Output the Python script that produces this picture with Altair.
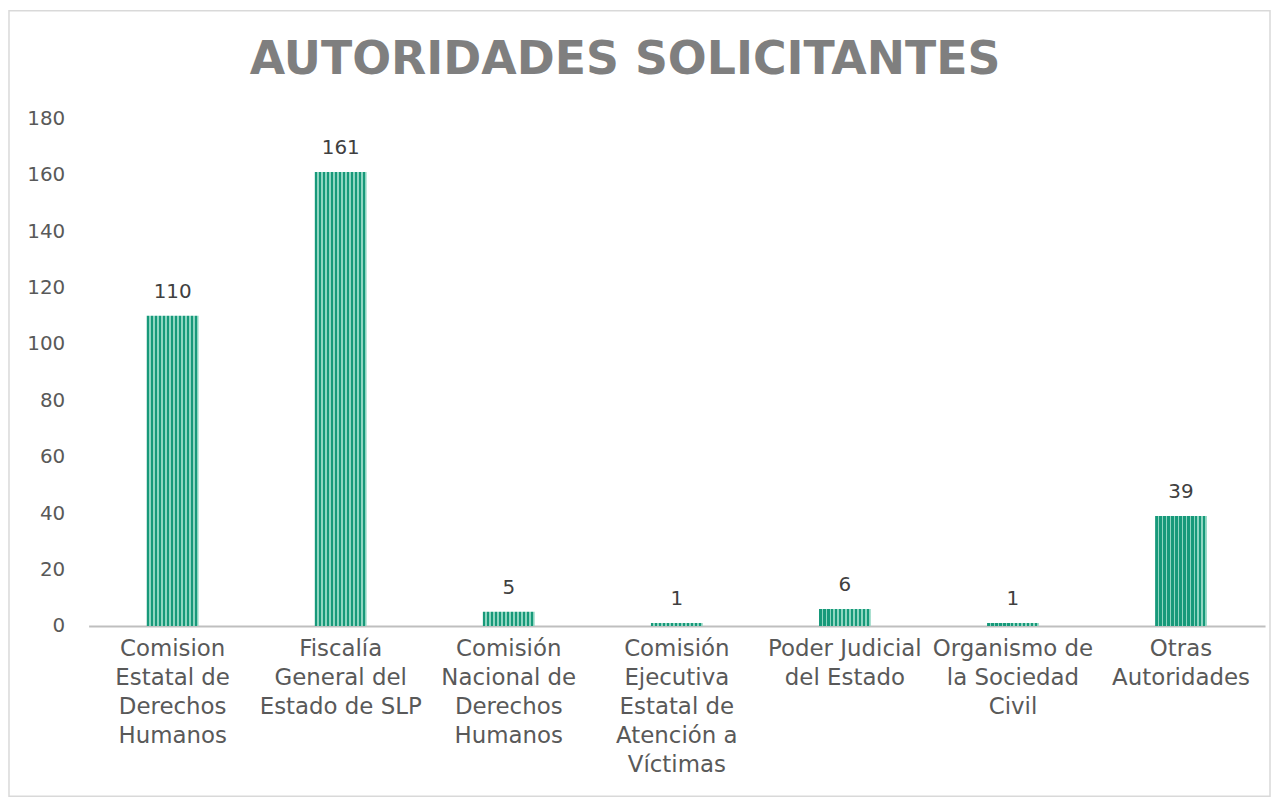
import altair as alt
import pandas as pd

categories = [
    "Comision\nEstatal de\nDerechos\nHumanos",
    "Fiscalía\nGeneral del\nEstado de SLP",
    "Comisión\nNacional de\nDerechos\nHumanos",
    "Comisión\nEjecutiva\nEstatal de\nAtención a\nVíctimas",
    "Poder Judicial\ndel Estado",
    "Organismo de\nla Sociedad\nCivil",
    "Otras\nAutoridades",
]
values = [110, 161, 5, 1, 6, 1, 39]
y_ticks = [0, 20, 40, 60, 80, 100, 120, 140, 160, 180]

df = pd.DataFrame({"cat": categories, "val": values})

dark = "#17997a"
light = "#8fd6c1"
periods = 13
stops = []
for i in range(periods):
    a = i / periods
    b = (i + 0.64) / periods
    c = (i + 1) / periods
    stops += [
        alt.GradientStop(offset=a, color=dark),
        alt.GradientStop(offset=b, color=dark),
        alt.GradientStop(offset=b, color=light),
        alt.GradientStop(offset=c, color=light),
    ]
stripes = alt.LinearGradient(gradient="linear", stops=stops, x1=0, x2=1, y1=0, y2=0)

FONT = "DejaVu Sans"

x_enc = alt.X(
    "cat:N",
    sort=categories,
    title=None,
    scale=alt.Scale(paddingInner=0.692, paddingOuter=0.346),
    axis=alt.Axis(
        labelAngle=0,
        labelExpr="split(datum.label, '\\n')",
        labelFont=FONT,
        labelFontSize=23,
        labelColor="#595959",
        labelLineHeight=29,
        labelPadding=12,
        labelLimit=400,
        labelBaseline="top",
        ticks=False,
        domainColor="#bfbfbf",
        domainWidth=2,
        grid=False,
    ),
)
y_enc = alt.Y(
    "val:Q",
    title=None,
    scale=alt.Scale(domain=[0, 180], nice=False),
    axis=alt.Axis(
        values=y_ticks,
        labelFont=FONT,
        labelFontSize=20,
        labelColor="#595959",
        labelPadding=24,
        ticks=False,
        domain=False,
        grid=False,
    ),
)

bars = alt.Chart(df).mark_bar(fill=stripes).encode(x=x_enc, y=y_enc)
texts = alt.Chart(df).mark_text(
    dy=-14, baseline="bottom", font=FONT, fontSize=20, color="#404040"
).encode(x=alt.X("cat:N", sort=categories), y="val:Q", text="val:Q")

border = alt.Chart(pd.DataFrame({"b": [0]})).mark_rect(
    fill="transparent", stroke="#d9d9d9", strokeWidth=1.5, clip=False
).encode(
    x=alt.value(-80), x2=alt.value(1187), y=alt.value(-108), y2=alt.value(681)
)

chart = (
    alt.layer(border, bars, texts)
    .properties(
        width=1182,
        height=510,
        padding=0,
        view=alt.ViewBackground(stroke=None, strokeWidth=0),
        title=alt.TitleParams(
            "AUTORIDADES SOLICITANTES",
            font=FONT,
            fontSize=46,
            fontWeight="bold",
            color="#7f7f7f",
            anchor="middle",
            frame="group",
            dx=-52,
            offset=-74,
        ),
    )
    .configure_view(stroke=None, strokeWidth=0)
    .configure(background="white")
)

chart.save("out.html", embed_options={"renderer": "svg", "actions": False})
